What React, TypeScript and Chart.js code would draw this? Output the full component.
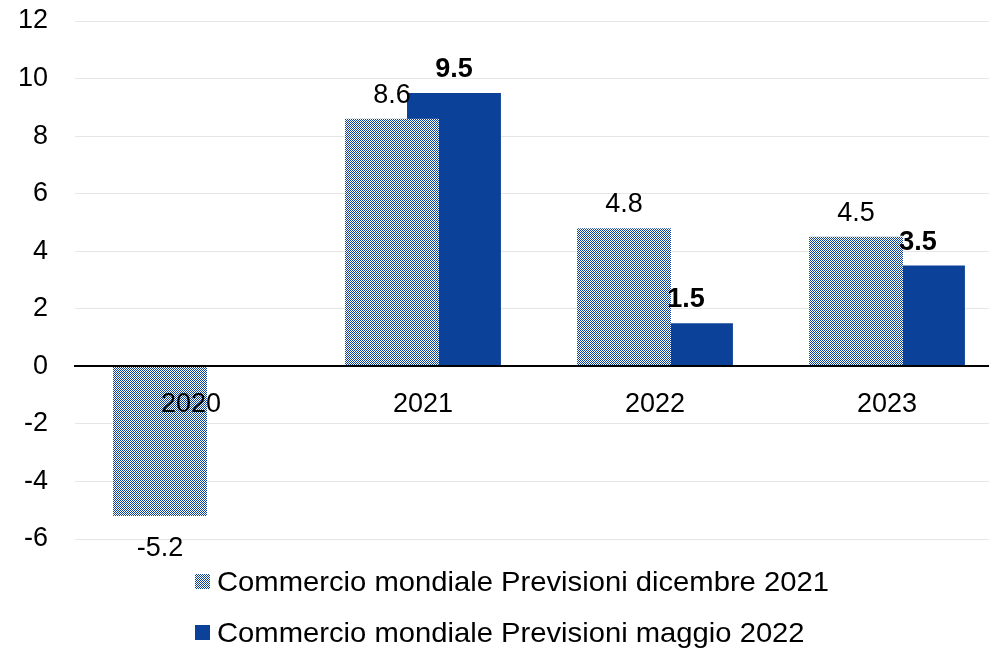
import React, { useEffect, useRef } from "react";
import { Chart, registerables } from "chart.js";

Chart.register(...registerables);

const categories = ["2020", "2021", "2022", "2023"];
const seriesDec2021: (number | null)[] = [-5.2, 8.6, 4.8, 4.5];
const seriesMay2022: (number | null)[] = [null, 9.5, 1.5, 3.5];
const seriesNames = [
  "Commercio mondiale Previsioni dicembre 2021",
  "Commercio mondiale Previsioni maggio 2022",
];
const yMin = -6;
const yMax = 12;
const yStep = 2;

const BLUE = "#0b4199";
const FONT = "'Liberation Sans', Arial, Helvetica, sans-serif";
const FONT_SIZE = 27;

function makePattern(): CanvasPattern | string {
  const c = document.createElement("canvas");
  c.width = 2;
  c.height = 2;
  const g = c.getContext("2d");
  if (!g) return BLUE;
  g.fillStyle = "#ffffff";
  g.fillRect(0, 0, 2, 2);
  g.fillStyle = BLUE;
  g.fillRect(0, 0, 1, 1);
  g.fillRect(1, 1, 1, 1);
  return g.createPattern(c, "repeat") ?? BLUE;
}

const valueLabels = {
  id: "valueLabels",
  afterDatasetsDraw(chart: any) {
    const ctx = chart.ctx;
    chart.data.datasets.forEach((ds: any, di: number) => {
      const meta = chart.getDatasetMeta(di);
      meta.data.forEach((el: any, i: number) => {
        const v = ds.data[i];
        if (v === null || v === undefined) return;
        ctx.save();
        ctx.font = `${di === 1 ? "bold " : ""}${FONT_SIZE}px ${FONT}`;
        ctx.fillStyle = "#000";
        ctx.textAlign = "center";
        ctx.textBaseline = "alphabetic";
        const y = v >= 0 ? el.y - 16 : el.y + 40;
        ctx.fillText(String(v), el.x, y);
        ctx.restore();
      });
    });
  },
};

const noPadding = (scale: any) => {
  scale.paddingTop = 0;
  scale.paddingBottom = 0;
  scale.paddingLeft = 0;
  scale.paddingRight = 0;
};

export default function App() {
  const ref = useRef<HTMLCanvasElement | null>(null);

  useEffect(() => {
    if (!ref.current) return;
    const pattern = makePattern();
    const chart = new Chart(ref.current, {
      type: "bar",
      data: {
        labels: categories,
        datasets: [
          {
            label: seriesNames[0],
            data: seriesDec2021,
            backgroundColor: pattern as any,
            borderWidth: 0,
          },
          {
            label: seriesNames[1],
            data: seriesMay2022,
            backgroundColor: BLUE,
            borderWidth: 0,
          },
        ],
      },
      options: {
        responsive: false,
        animation: false,
        devicePixelRatio: 1,
        layout: { padding: { left: 18, right: 7, top: 21, bottom: 110 } },
        datasets: {
          bar: { categoryPercentage: 0.534, barPercentage: 1.516 },
        },
        plugins: {
          legend: { display: false },
          tooltip: { enabled: false },
        },
        scales: {
          x: {
            position: { y: 0 } as any,
            grid: { display: false, drawTicks: false },
            border: { display: true, color: "#000", width: 2, z: 1 } as any,
            ticks: {
              color: "#000",
              font: { family: FONT, size: FONT_SIZE },
              padding: 22,
              maxRotation: 0,
              z: 1,
            },
            afterFit: noPadding,
          },
          y: {
            min: yMin,
            max: yMax,
            ticks: {
              stepSize: yStep,
              color: "#000",
              font: { family: FONT, size: FONT_SIZE },
              padding: 27,
            },
            grid: {
              color: "#e6e6e6",
              lineWidth: 1,
              drawTicks: false,
            },
            border: { display: false },
            afterFit: (scale: any) => {
              noPadding(scale);
              scale.width = 57;
            },
          },
        },
      },
      plugins: [valueLabels],
    });
    return () => chart.destroy();
  }, []);

  const checker = `repeating-conic-gradient(${BLUE} 0% 25%, #ffffff 0% 50%) 0 0 / 2px 2px`;
  const rows = [
    { name: seriesNames[0], bg: checker, center: 581.5 },
    { name: seriesNames[1], bg: BLUE, center: 632.5 },
  ];

  return (
    <div
      style={{
        position: "fixed",
        left: 0,
        top: 0,
        width: 989,
        height: 649,
        overflow: "hidden",
        background: "#fff",
      }}
    >
      <canvas ref={ref} width={1010} height={649} style={{ display: "block" }} />
      {rows.map((r) => (
        <div
          key={r.name}
          style={{
            position: "absolute",
            left: 195,
            top: r.center - 15,
            height: 30,
            display: "flex",
            alignItems: "center",
            fontFamily: FONT,
            fontSize: 28,
            lineHeight: "30px",
            color: "#000",
            whiteSpace: "nowrap",
          }}
        >
          <span
            style={{
              display: "inline-block",
              width: 15,
              height: 15,
              background: r.bg,
              marginRight: 7,
            }}
          />
          <span
            style={{
              display: "inline-block",
              transform: "scaleX(1.043)",
              transformOrigin: "left center",
            }}
          >
            {r.name}
          </span>
        </div>
      ))}
    </div>
  );
}
